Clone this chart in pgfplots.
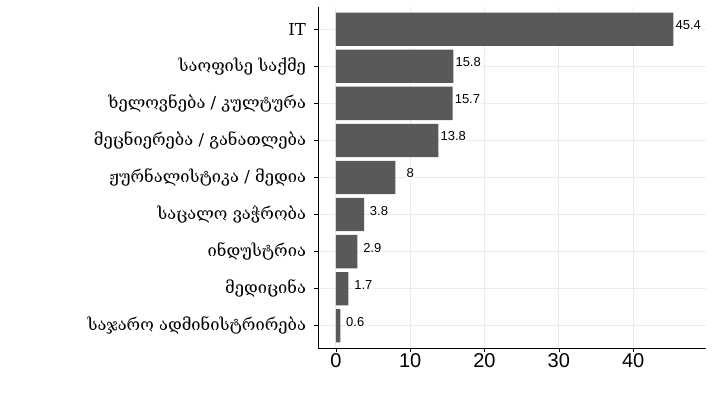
\documentclass[border=0pt]{standalone}
\usepackage{pgfplots}
\pgfplotsset{compat=1.18}
\usepackage{fontspec}
\setmainfont{Liberation Sans}
\newfontfamily\geofont{DejaVu Serif}
\definecolor{barc}{HTML}{595959}
\definecolor{gridc}{HTML}{EBEBEB}
\begin{document}
\begin{tikzpicture}
\begin{axis}[
  scale only axis,
  width=388bp, height=341bp,
  xmin=-2.4, xmax=49.8,
  ymin=0.4, ymax=9.6,
  xbar, bar width=0.9,
  axis x line*=bottom, axis y line*=left,
  axis line style={black, line width=0.6pt},
  xtick={0,10,20,30,40},
  ytick={1,...,9},
  yticklabels={საჯარო ადმინისტრირება, მედიცინა, ინდუსტრია, საცალო ვაჭრობა, ჟურნალისტიკა / მედია, მეცნიერება / განათლება, ხელოვნება / კულტურა, საოფისე საქმე, IT},
  yticklabel style={font=\geofont\fontsize{16.5bp}{18bp}\selectfont, xshift=-5bp},
  xticklabel style={font=\fontsize{20bp}{22bp}\selectfont, yshift=1bp},
  /pgf/number format/assume math mode=true,
  tick style={black, line width=0.6pt},
  tick align=outside,
  major tick length=3.5bp,
  grid=major,
  major grid style={gridc, line width=0.7pt},
  nodes near coords,
  nodes near coords style={font=\fontsize{13bp}{15bp}\selectfont, anchor=center, xshift=14.9bp, yshift=4bp, fill=white, inner sep=0.5bp},
  point meta=explicit symbolic,
  clip=false,
]
\addplot[fill=barc, draw=none] coordinates {
  (0.6,1) [0.6]
  (1.7,2) [1.7]
  (2.9,3) [2.9]
  (3.8,4) [3.8]
  (8,5) [8]
  (13.8,6) [13.8]
  (15.7,7) [15.7]
  (15.8,8) [15.8]
  (45.4,9) [45.4]
};
\end{axis}
\path (current axis.south west) ++(-318bp,-49bp) coordinate (bl);
\path (current axis.north east) ++(16bp,7bp) coordinate (tr);
\useasboundingbox (bl) rectangle (tr);
\end{tikzpicture}
\end{document}
